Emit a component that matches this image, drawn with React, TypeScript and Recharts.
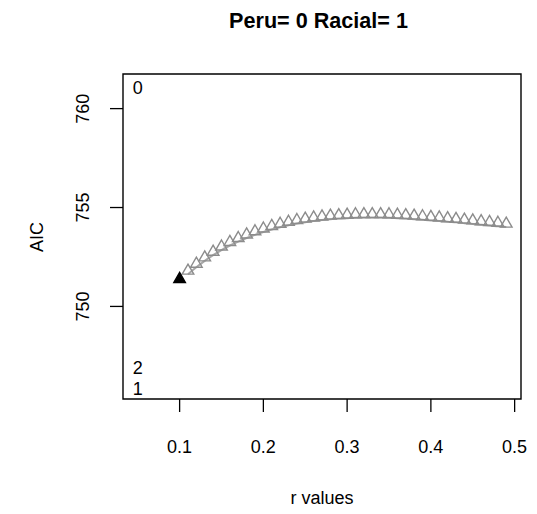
import React from "react";
import {
  ComposedChart,
  Line,
  ReferenceArea,
  Scatter,
  XAxis,
  YAxis,
} from "recharts";

const rValues = [
  0.1, 0.11, 0.12, 0.13, 0.14, 0.15, 0.16, 0.17, 0.18, 0.19, 0.2, 0.21, 0.22,
  0.23, 0.24, 0.25, 0.26, 0.27, 0.28, 0.29, 0.3, 0.31, 0.32, 0.33, 0.34, 0.35,
  0.36, 0.37, 0.38, 0.39, 0.4, 0.41, 0.42, 0.43, 0.44, 0.45, 0.46, 0.47, 0.48,
  0.49,
];

const aicValues = [
  751.38, 751.8, 752.15, 752.47, 752.76, 753.02, 753.25, 753.45, 753.63,
  753.79, 753.93, 754.06, 754.17, 754.27, 754.36, 754.43, 754.49, 754.54,
  754.58, 754.61, 754.63, 754.65, 754.66, 754.66, 754.66, 754.65, 754.63,
  754.61, 754.58, 754.55, 754.52, 754.49, 754.45, 754.42, 754.38, 754.34,
  754.3, 754.26, 754.22, 754.18,
];

// grey curve running along the base of the triangles (starts at r = 0.11)
const curveValues = [
  751.63, 751.98, 752.3, 752.59, 752.85, 753.08, 753.28, 753.46, 753.62,
  753.76, 753.89, 754.0, 754.1, 754.19, 754.26, 754.32, 754.37, 754.41,
  754.44, 754.46, 754.48, 754.49, 754.49, 754.49, 754.48, 754.46, 754.44,
  754.41, 754.38, 754.35, 754.32, 754.28, 754.25, 754.21, 754.17, 754.13,
  754.09, 754.05, 754.01,
];

const cornerLabels = ["0", "2", "1"];
const cornerX = [0.05, 0.05, 0.05];
const cornerY = [761.05, 746.9, 745.84];

const xTicks = [0.1, 0.2, 0.3, 0.4, 0.5];
const yTicks = [750, 755, 760];

const X_DOMAIN: [number, number] = [0.0324, 0.5076];
const Y_DOMAIN: [number, number] = [745.32, 761.75];

const font = "'Liberation Sans', Arial, Helvetica, sans-serif";

const bestPoint = [{ r: rValues[0], aic: aicValues[0] }];
const otherPoints = rValues.slice(1).map((r, i) => ({ r, aic: aicValues[i + 1] }));
const curve = rValues.slice(1).map((r, i) => ({ r, aic: curveValues[i] }));
const corners = cornerLabels.map((label, i) => ({
  r: cornerX[i],
  aic: cornerY[i],
  label,
}));

function triangle(fill: string, stroke: string) {
  return (props: any) => {
    const { cx, cy } = props;
    const h = 4.3;
    const pts = [
      `${cx},${cy - 1.555 * h}`,
      `${cx + 1.347 * h},${cy + 0.778 * h}`,
      `${cx - 1.347 * h},${cy + 0.778 * h}`,
    ].join(" ");
    return (
      <polygon points={pts} fill={fill} stroke={stroke} strokeWidth={1.4} />
    );
  };
}

const cornerText = (props: any) => {
  const { cx, cy, payload } = props;
  return (
    <text
      x={cx}
      y={cy}
      textAnchor="middle"
      dominantBaseline="central"
      fontSize={18}
      fontFamily={font}
      fill="#000"
    >
      {payload.label}
    </text>
  );
};

const XTick = (props: any) => {
  const { x, y, payload } = props;
  return (
    <text
      x={x}
      y={y + 33}
      textAnchor="middle"
      dominantBaseline="central"
      fontSize={18}
      fontFamily={font}
      fill="#000"
    >
      {payload.value.toFixed(1)}
    </text>
  );
};

const YTick = (props: any) => {
  const { x, y, payload } = props;
  const cx = x - 25;
  return (
    <text
      x={cx}
      y={y}
      transform={`rotate(-90 ${cx} ${y})`}
      textAnchor="middle"
      dominantBaseline="central"
      fontSize={18}
      fontFamily={font}
      fill="#000"
    >
      {payload.value}
    </text>
  );
};

export default function App() {
  return (
    <div style={{ width: 537, height: 514, background: "#fff", position: "relative" }}>
      <style>{`body{margin:0;}`}</style>
      <div
        style={{
          position: "absolute",
          top: 8,
          width: 537,
          textAlign: "center",
          left: 50,
          fontFamily: font,
          fontWeight: "bold",
          fontSize: 21.6,
          lineHeight: "26px",
        }}
      >
        Peru= 0 Racial= 1
      </div>
      <div
        style={{
          position: "absolute",
          left: 322 - 60,
          width: 120,
          top: 486,
          textAlign: "center",
          fontFamily: font,
          fontSize: 18,
          lineHeight: "24px",
        }}
      >
        r values
      </div>
      <div
        style={{
          position: "absolute",
          left: 37 - 60,
          top: 237 - 12,
          width: 120,
          textAlign: "center",
          fontFamily: font,
          fontSize: 18,
          lineHeight: "24px",
          transform: "rotate(-90deg)",
        }}
      >
        AIC
      </div>
      <ComposedChart
        width={537}
        height={514}
        margin={{ top: 74, right: 16, bottom: 55, left: 63 }}
      >
        <XAxis
          type="number"
          dataKey="r"
          domain={X_DOMAIN}
          ticks={xTicks}
          allowDataOverflow
          height={60}
          axisLine={false}
          tickSize={13}
          tickLine={{ stroke: "#000", strokeWidth: 1.3 }}
          tick={<XTick />}
        />
        <YAxis
          type="number"
          dataKey="aic"
          domain={Y_DOMAIN}
          ticks={yTicks}
          allowDataOverflow
          width={60}
          axisLine={false}
          tickSize={13}
          tickLine={{ stroke: "#000", strokeWidth: 1.3 }}
          tick={<YTick />}
        />
        <ReferenceArea
          x1={X_DOMAIN[0]}
          x2={X_DOMAIN[1]}
          y1={Y_DOMAIN[0]}
          y2={Y_DOMAIN[1]}
          fill="none"
          stroke="#000"
          strokeWidth={1.4}
          ifOverflow="visible"
        />
        <Line
          data={curve}
          dataKey="aic"
          type="monotone"
          stroke="#a8a8a8"
          strokeWidth={2}
          dot={false}
          isAnimationActive={false}
        />
        <Scatter
          data={otherPoints}
          dataKey="aic"
          shape={triangle("none", "#8c8c8c")}
          isAnimationActive={false}
        />
        <Scatter
          data={bestPoint}
          dataKey="aic"
          shape={triangle("#000", "#000")}
          isAnimationActive={false}
        />
        <Scatter
          data={corners}
          dataKey="aic"
          shape={cornerText}
          isAnimationActive={false}
        />
      </ComposedChart>
    </div>
  );
}
